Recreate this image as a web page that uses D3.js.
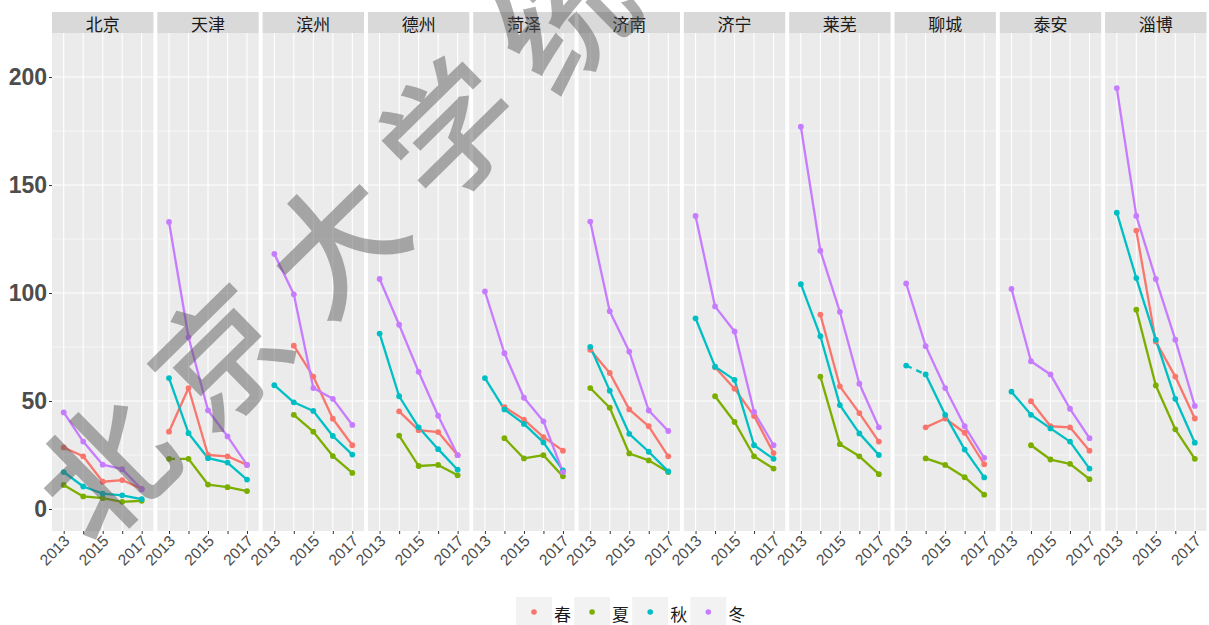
<!DOCTYPE html>
<html>
<head>
<meta charset="utf-8">
<script src="https://cdn.jsdelivr.net/npm/d3@7"></script>
<style>
  body { margin: 0; background: #ffffff; }
  text { font-family: "Liberation Sans", Arial, sans-serif; }
  .cjk { font-family: "Noto Sans CJK SC", sans-serif; }
</style>
</head>
<body>
<svg id="chart" width="1209" height="625"></svg>
<script>
// ---- data -------------------------------------------------------------
const years = [2013, 2014, 2015, 2016, 2017];
const yearLabels = ["2013", "", "2015", "", "2017"];
const cities = ["北京", "天津", "滨州", "德州", "菏泽", "济南", "济宁", "莱芜", "聊城", "泰安", "淄博"];
const seasons = ["春", "夏", "秋", "冬"];
const seasonColors = ["#F8766D", "#7CAE00", "#00BFC4", "#C77CFF"];
const yTicks = [0, 50, 100, 150, 200];
const yMinorTicks = [25, 75, 125, 175];

// one row per city, one value per year (null = no observation)
const spring = [
  [28.5, 24.4, 12.6, 13.4, 9.3],
  [35.8, 56.0, 25.0, 24.4, 20.4],
  [null, 75.6, 61.3, 41.8, 29.5],
  [null, 45.2, 36.5, 35.6, 24.9],
  [null, 47.2, 41.4, 33.3, 27.0],
  [73.7, 63.0, 46.1, 38.3, 24.4],
  [null, 65.6, 55.7, 43.1, 25.9],
  [null, 90.0, 56.8, 44.4, 31.2],
  [null, 37.8, 41.9, 35.3, 20.7],
  [null, 49.9, 38.3, 37.8, 27.0],
  [null, 128.9, 77.5, 61.3, 41.9]
];
const summer = [
  [11.1, 5.8, 5.0, 3.3, 3.8],
  [23.2, 23.2, 11.3, 10.1, 8.3],
  [null, 43.6, 35.8, 24.5, 16.7],
  [null, 34.0, 19.9, 20.4, 15.6],
  [null, 32.8, 23.4, 24.9, 15.1],
  [56.0, 46.9, 25.7, 22.5, 17.1],
  [null, 52.2, 40.3, 24.4, 18.7],
  [null, 61.3, 30.0, 24.4, 16.1],
  [null, 23.4, 20.4, 14.7, 6.6],
  [null, 29.5, 22.9, 20.9, 13.8],
  [null, 92.3, 57.2, 36.9, 23.2]
];
const autumn = [
  [17.1, 10.4, 7.1, 6.3, 4.6],
  [60.6, 35.1, 23.5, 21.5, 13.6],
  [57.3, 49.4, 45.4, 33.8, 25.2],
  [81.2, 52.2, 37.8, 27.7, 18.2],
  [60.6, 46.1, 39.4, 30.8, 17.9],
  [75.1, 54.8, 34.8, 26.5, 17.4],
  [88.3, 65.9, 59.8, 29.5, 23.2],
  [104.1, 80.0, 48.1, 35.0, 25.0],
  [66.4, 62.3, 43.6, 27.5, 14.6],
  [54.3, 43.6, 37.3, 31.2, 18.7],
  [137.2, 106.9, 78.4, 51.0, 30.7]
];
const winter = [
  [44.7, 31.2, 20.5, 18.4, 9.1],
  [132.9, 79.5, 45.7, 33.6, 20.4],
  [118.1, 99.4, 56.0, 51.0, 38.9],
  [106.5, 85.3, 63.5, 43.2, 24.9],
  [100.7, 72.1, 51.5, 40.6, 17.1],
  [133.1, 91.6, 72.9, 45.6, 36.1],
  [135.7, 93.8, 82.2, 44.9, 29.5],
  [177.0, 119.6, 91.3, 58.0, 37.8],
  [104.4, 75.4, 56.0, 38.3, 23.7],
  [101.9, 68.4, 62.3, 46.4, 32.8],
  [194.9, 135.7, 106.5, 78.4, 47.7]
];
// segments drawn dashed: [city, season, start year]
const dashedSegments = [["天津", "夏", 2013], ["聊城", "秋", 2013]];
const watermark = "北京大学统";

const seriesBySeason = [spring, summer, autumn, winter];

// ---- layout -------------------------------------------------------------
const svg = d3.select("#chart");
const panelTop = 33, panelBottom = 531, stripTop = 12;

const panelX = d3.scaleBand().domain(cities).range([52, 1206.5]).paddingInner(0.037).paddingOuter(0);
const pw = panelX.bandwidth();
const x = d3.scaleLinear().domain([2012.4, 2017.6]).range([0, pw]);
const y = d3.scaleLinear().domain([-10.2, 220.4]).range([panelBottom, panelTop]);
const color = d3.scaleOrdinal().domain(seasons).range(seasonColors);

const isDashed = (city, season, yr) =>
  dashedSegments.some(d => d[0] === city && d[1] === season && d[2] === yr);

// ---- panels -------------------------------------------------------------
const panels = svg.selectAll("g.panel").data(cities).join("g")
  .attr("class", "panel")
  .attr("transform", c => `translate(${panelX(c)},0)`);

panels.append("rect")
  .attr("x", 0).attr("y", panelTop).attr("width", pw).attr("height", panelBottom - panelTop)
  .attr("fill", "#EBEBEB");

panels.selectAll("line.ymin").data(yMinorTicks).join("line")
  .attr("x1", 0).attr("x2", pw).attr("y1", d => y(d)).attr("y2", d => y(d))
  .attr("stroke", "#fff").attr("stroke-width", 0.55);
panels.selectAll("line.ymaj").data(yTicks).join("line")
  .attr("x1", 0).attr("x2", pw).attr("y1", d => y(d)).attr("y2", d => y(d))
  .attr("stroke", "#fff").attr("stroke-width", 1.1);
panels.selectAll("line.xmaj").data(years).join("line")
  .attr("x1", d => x(d)).attr("x2", d => x(d)).attr("y1", panelTop).attr("y2", panelBottom)
  .attr("stroke", "#fff").attr("stroke-width", 1.1);

// strips
panels.append("rect")
  .attr("x", 0).attr("y", stripTop).attr("width", pw).attr("height", panelTop - stripTop)
  .attr("fill", "#D9D9D9");
panels.append("text")
  .attr("class", "cjk")
  .attr("x", pw / 2).attr("y", (stripTop + panelTop) / 2 + 1)
  .attr("text-anchor", "middle").attr("dominant-baseline", "central")
  .attr("font-size", 17).attr("fill", "#1A1A1A")
  .text(c => c);

// x axis per panel
panels.each(function () {
  const g = d3.select(this).append("g").attr("transform", `translate(0,${panelBottom})`);
  const ax = d3.axisBottom(x).tickValues(years).tickFormat(() => "").tickSize(3).tickSizeOuter(0);
  g.call(ax);
  g.select(".domain").remove();
  g.selectAll(".tick line").attr("stroke", "#333333").attr("stroke-width", 1);
  g.selectAll("text.yl").data(years).join("text")
    .attr("class", "yl")
    .attr("transform", d => `translate(${x(d) + 7},${11}) rotate(-45)`)
    .attr("text-anchor", "end")
    .attr("font-size", 15.5).attr("fill", "#4D4D4D")
    .text((d, i) => yearLabels[i]);
});

// y axis on first panel
const yAxisG = svg.append("g").attr("transform", `translate(${panelX(cities[0])},0)`);
yAxisG.call(d3.axisLeft(y).tickValues(yTicks).tickSize(3).tickSizeOuter(0));
yAxisG.select(".domain").remove();
yAxisG.selectAll(".tick line").attr("stroke", "#333333");
yAxisG.selectAll(".tick text")
  .attr("font-family", "Liberation Sans, Arial, sans-serif")
  .attr("font-size", 23).attr("font-weight", "bold").attr("fill", "#4D4D4D")
  .attr("x", -5);

// ---- lines & points ---------------------------------------------------
cities.forEach((city, ci) => {
  const g = svg.append("g").attr("transform", `translate(${panelX(city)},0)`);
  // lines first (ordered by season), then points
  seasons.forEach((s, si) => {
    const vals = seriesBySeason[si][ci];
    for (let k = 0; k < years.length - 1; k++) {
      if (vals[k] == null || vals[k + 1] == null) continue;
      g.append("line")
        .attr("x1", x(years[k])).attr("y1", y(vals[k]))
        .attr("x2", x(years[k + 1])).attr("y2", y(vals[k + 1]))
        .attr("stroke", color(s)).attr("stroke-width", 2.3)
        .attr("stroke-linecap", "butt")
        .attr("stroke-dasharray", isDashed(city, s, years[k]) ? "6,5" : null);
    }
  });
  seasons.forEach((s, si) => {
    const pts = years.map((yr, k) => ({ yr, v: seriesBySeason[si][ci][k] })).filter(d => d.v != null);
    g.selectAll(null).data(pts).join("circle")
      .attr("cx", d => x(d.yr)).attr("cy", d => y(d.v)).attr("r", 2.9)
      .attr("fill", color(s));
  });
});

// ---- legend -------------------------------------------------------------
const legendStart = 516;
const legend = svg.append("g");
seasons.forEach((s, i) => {
  const lx = legendStart + i * 58.1;
  legend.append("rect").attr("x", lx).attr("y", 597).attr("width", 36).attr("height", 30)
    .attr("fill", "#F2F2F2");
  legend.append("circle").attr("cx", lx + 18).attr("cy", 612).attr("r", 2.8).attr("fill", color(s));
  legend.append("text").attr("class", "cjk")
    .attr("x", lx + 38).attr("y", 613)
    .attr("dominant-baseline", "central")
    .attr("font-size", 17).attr("fill", "#1A1A1A")
    .text(s);
});

// ---- watermark ----------------------------------------------------------
const wm = svg.append("g").attr("transform", "translate(100,463) rotate(-44.5)");
wm.selectAll("text").data(Array.from(watermark)).join("text")
  .attr("class", "cjk")
  .attr("x", (d, i) => i * 161).attr("y", 0)
  .attr("text-anchor", "middle").attr("dominant-baseline", "central")
  .attr("font-size", 132).attr("font-weight", 500)
  .attr("fill", "#555555").attr("fill-opacity", 0.48)
  .text(d => d);
</script>
</body>
</html>
